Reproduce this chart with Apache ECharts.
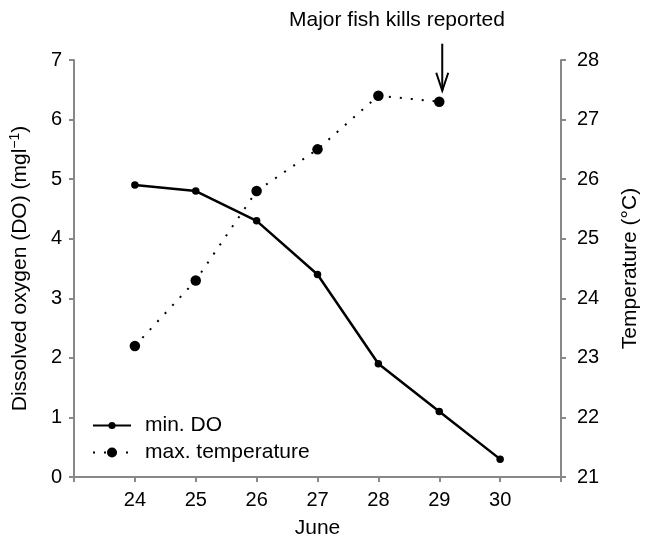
<!DOCTYPE html>
<html>
<head>
<meta charset="utf-8">
<script src="https://cdn.jsdelivr.net/npm/echarts@6/dist/echarts.min.js"></script>
<style>
  html, body { margin: 0; padding: 0; background: #fff; }
  #chart { width: 649px; height: 544px; }
</style>
</head>
<body>
<div id="chart"></div>
<script>
// Days of June
const days = [24, 25, 26, 27, 28, 29, 30];
// Minimum dissolved oxygen (mg/l)
const minDO = [4.9, 4.8, 4.3, 3.4, 1.9, 1.1, 0.3];
// Maximum water temperature (°C), no reading on the 30th
const maxTemp = [23.2, 24.3, 25.8, 26.5, 27.4, 27.3];
// Day on which the fish kills were reported
const killDay = 29;

const FONT = '"Liberation Sans", Arial, Helvetica, sans-serif';
const AXIS_COLOR = '#888';

const doData = days.map((d, i) => [d, minDO[i]]);
const tempData = maxTemp.map((t, i) => [days[i], t]);

const chart = echarts.init(document.getElementById('chart'), null, { renderer: 'canvas' });

const axisCommon = {
  axisLine: { show: true, onZero: false, lineStyle: { color: AXIS_COLOR, width: 2 } },
  axisTick: { show: true, inside: false, length: 5, lineStyle: { color: AXIS_COLOR, width: 2 } },
  splitLine: { show: false },
  nameTextStyle: { color: '#000', fontSize: 21, fontFamily: FONT },
  axisLabel: { color: '#000', fontSize: 20, fontFamily: FONT }
};

const legendText = { color: '#000', fontSize: 21, fontFamily: FONT, padding: [0, 0, 0, 9] };

const option = {
  animation: false,
  backgroundColor: '#fff',
  title: {
    text: 'Major fish kills reported',
    left: 289,
    top: 10,
    padding: 0,
    textStyle: { color: '#000', fontSize: 21, fontWeight: 'normal', fontFamily: FONT }
  },
  grid: { left: 72, right: 82, top: 60, bottom: 63, containLabel: false },
  xAxis: Object.assign({}, axisCommon, {
    type: 'value',
    min: 23, max: 31, interval: 1,
    name: 'June',
    nameLocation: 'middle',
    nameGap: 41,
    axisLabel: Object.assign({}, axisCommon.axisLabel, {
      margin: 13,
      formatter: v => (v >= days[0] && v <= days[days.length - 1]) ? String(v) : ''
    })
  }),
  yAxis: [
    Object.assign({}, axisCommon, {
      type: 'value', position: 'left',
      min: 0, max: 7, interval: 1,
      name: 'Dissolved oxygen (DO) (mgl{sup|\u22121})',
      nameLocation: 'middle',
      nameGap: 42,
      nameRotate: 90,
      nameTextStyle: Object.assign({}, axisCommon.nameTextStyle, {
        rich: { sup: { fontSize: 14, fontFamily: FONT, color: '#000', padding: [0, 0, 10, 0] } }
      }),
      axisLabel: Object.assign({}, axisCommon.axisLabel, { margin: 12 })
    }),
    Object.assign({}, axisCommon, {
      type: 'value', position: 'right',
      min: 21, max: 28, interval: 1,
      name: 'Temperature (\u00B0C)',
      nameLocation: 'middle',
      nameGap: 59,
      nameRotate: 90,
      axisLabel: Object.assign({}, axisCommon.axisLabel, { margin: 16 })
    })
  ],
  legend: [
    {
      data: ['min. DO'],
      left: 92, top: 415, padding: 0,
      itemWidth: 38, itemHeight: 9,
      textStyle: legendText
    },
    {
      data: ['max. temperature'],
      left: 92, top: 442, padding: 0,
      itemWidth: 38, itemHeight: 12.5,
      textStyle: legendText
    }
  ],
  series: [
    {
      name: 'min. DO',
      type: 'line',
      yAxisIndex: 0,
      data: doData,
      symbol: 'circle',
      symbolSize: 7.5,
      itemStyle: { color: '#000' },
      lineStyle: { color: '#000', width: 2.5 },
      z: 3
    },
    {
      name: 'max. temperature',
      type: 'line',
      yAxisIndex: 1,
      data: tempData,
      symbol: 'circle',
      symbolSize: 10.5,
      itemStyle: { color: '#000' },
      lineStyle: { color: '#000', width: 2, type: [2, 9] },
      z: 2
    }
  ]
};

chart.setOption(option);

// Arrow pointing down at the temperature reading on the day of the fish kills
const killIdx = days.indexOf(killDay);
const pt = chart.convertToPixel({ yAxisIndex: 1, xAxisIndex: 0 }, [killDay, maxTemp[killIdx]]);
const ax = pt[0] + 3;
const tipY = pt[1] - 11;
chart.setOption({
  graphic: [
    {
      type: 'group',
      children: [
        { type: 'line', shape: { x1: ax, y1: tipY - 47, x2: ax, y2: tipY }, style: { stroke: '#000', lineWidth: 2 } },
        { type: 'polyline', shape: { points: [[ax - 6, tipY - 18], [ax, tipY], [ax + 6, tipY - 18]] }, style: { stroke: '#000', lineWidth: 2, fill: null } }
      ]
    }
  ]
});
</script>
</body>
</html>
